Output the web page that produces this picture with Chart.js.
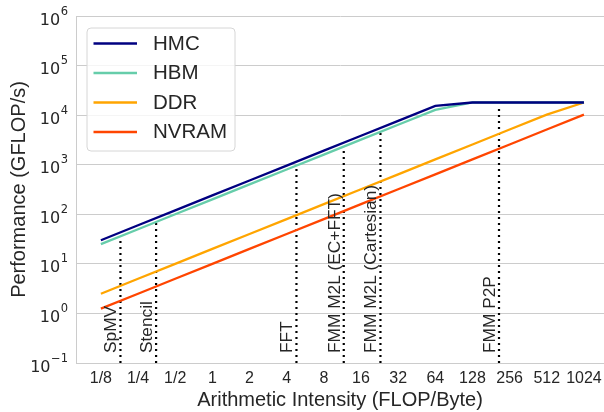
<!DOCTYPE html>
<html>
<head>
<meta charset="utf-8">
<script src="https://cdn.jsdelivr.net/npm/chart.js@4.4.0/dist/chart.umd.min.js"></script>
<style>
  html, body { margin: 0; padding: 0; background: #fff; }
  canvas { display: block; }
</style>
</head>
<body>
<canvas id="roofline" width="604" height="412"></canvas>
<script>
// arithmetic intensity (FLOP/Byte) where the roofs are sampled
var intensity = [0.125, 0.25, 0.5, 1, 2, 4, 8, 16, 32, 64, 128, 256, 512, 1024];
var xTickLabels = ['1/8', '1/4', '1/2', '1', '2', '4', '8', '16', '32', '64', '128', '256', '512', '1024'];

// attainable performance (GFLOP/s) per memory technology
var hmc   = [30, 60, 120, 240, 480, 960, 1920, 3840, 7680, 15360, 18000, 18000, 18000, 18000];
var hbm   = [25, 50, 100, 200, 400, 800, 1600, 3200, 6400, 12800, 18000, 18000, 18000, 18000];
var ddr   = [2.5, 5, 10, 20, 40, 80, 160, 320, 640, 1280, 2560, 5120, 10240, 18000];
var nvram = [1.25, 2.5, 5, 10, 20, 40, 80, 160, 320, 640, 1280, 2560, 5120, 10240];

var seriesNames = ['HMC', 'HBM', 'DDR', 'NVRAM'];
var seriesColors = ['#000080', '#66cdaa', '#ffa500', '#ff4500'];

var yTicks = [0.1, 1, 10, 100, 1000, 10000, 100000, 1000000];
var yTickExp = ['\u22121', '0', '1', '2', '3', '4', '5', '6'];

// kernels marked with dotted lines
var kernels = ['SpMV', 'Stencil', 'FFT', 'FMM M2L (EC+FFT)', 'FMM M2L (Cartesian)', 'FMM P2P'];
var kernelAI = [0.18, 0.35, 4.8, 11.6, 23, 210];
var kernelTop = [36, 72, 950, 2300, 4600, 16000];

var FONT = "'Liberation Sans', Arial, sans-serif";
var TEXT = '#262626';
var GRID = '#cccccc';

function pts(vals) {
  return intensity.map(function (x, i) { return { x: x, y: vals[i] }; });
}

var datasets = [];
[hmc, hbm, ddr, nvram].forEach(function (vals, i) {
  datasets.push({
    label: seriesNames[i],
    data: pts(vals),
    borderColor: seriesColors[i],
    backgroundColor: seriesColors[i],
    borderWidth: 2.3,
    pointRadius: 0,
    fill: false,
    tension: 0
  });
});
kernels.forEach(function (name, i) {
  datasets.push({
    label: name,
    data: [{ x: kernelAI[i], y: 0.1 }, { x: kernelAI[i], y: kernelTop[i] }],
    borderColor: '#000',
    borderWidth: 2.2,
    borderDash: [2, 4],
    borderCapStyle: 'butt',
    pointRadius: 0,
    fill: false
  });
});

// y tick labels as 10^n, kernel names and the framed legend
var extras = {
  id: 'extras',
  afterDraw: function (chart) {
    var ctx = chart.ctx;
    var ys = chart.scales.y, xs = chart.scales.x;
    var ca = chart.chartArea;

    // y ticks
    ctx.save();
    ctx.fillStyle = TEXT;
    ctx.textBaseline = 'alphabetic';
    ctx.textAlign = 'right';
    yTicks.forEach(function (v, i) {
      var py = ys.getPixelForValue(v);
      var right = ca.left - 8;
      ctx.font = "11.5px 'DejaVu Sans', sans-serif";
      var w = ctx.measureText(yTickExp[i]).width;
      ctx.fillText(yTickExp[i], right, py - 1.5);
      ctx.font = "16px 'DejaVu Sans', sans-serif";
      ctx.fillText('10', right - w - 0.5, py + 8.5);
    });
    ctx.restore();

    // kernel labels
    ctx.save();
    ctx.fillStyle = TEXT;
    ctx.font = '17.3px ' + FONT;
    ctx.textAlign = 'left';
    ctx.textBaseline = 'alphabetic';
    kernels.forEach(function (name, i) {
      var px = xs.getPixelForValue(kernelAI[i]);
      ctx.save();
      ctx.translate(px - 4, ca.bottom - 10);
      ctx.rotate(-Math.PI / 2);
      ctx.fillText(name, 0, 0);
      ctx.restore();
    });
    ctx.restore();

    // legend
    var lx = ca.left + 11, ly = ca.top + 12, lw = 148, lh = 123, r = 4;
    ctx.save();
    ctx.beginPath();
    ctx.moveTo(lx + r, ly);
    ctx.arcTo(lx + lw, ly, lx + lw, ly + lh, r);
    ctx.arcTo(lx + lw, ly + lh, lx, ly + lh, r);
    ctx.arcTo(lx, ly + lh, lx, ly, r);
    ctx.arcTo(lx, ly, lx + lw, ly, r);
    ctx.closePath();
    ctx.fillStyle = 'rgba(255,255,255,0.8)';
    ctx.fill();
    ctx.strokeStyle = '#d6d6d6';
    ctx.lineWidth = 1;
    ctx.stroke();
    ctx.font = '20.5px ' + FONT;
    ctx.textAlign = 'left';
    ctx.textBaseline = 'middle';
    seriesNames.forEach(function (name, i) {
      var ry = ly + 15.5 + i * 29.5;
      ctx.strokeStyle = seriesColors[i];
      ctx.lineWidth = 2.3;
      ctx.beginPath();
      ctx.moveTo(lx + 6.5, ry);
      ctx.lineTo(lx + 50, ry);
      ctx.stroke();
      ctx.fillStyle = TEXT;
      ctx.fillText(name, lx + 66, ry + 0.5);
    });
    ctx.restore();
  }
};

var ctx = document.getElementById('roofline').getContext('2d');
var chart = new Chart(ctx, {
  type: 'line',
  data: { datasets: datasets },
  options: {
    responsive: false,
    animation: false,
    devicePixelRatio: 1,
    layout: { padding: { top: 16, left: 0, right: 0, bottom: 0 } },
    plugins: {
      legend: { display: false },
      tooltip: { enabled: false }
    },
    scales: {
      x: {
        type: 'logarithmic',
        min: Math.pow(2, -3.67),
        max: Math.pow(2, 10.54),
        afterBuildTicks: function (s) {
          s.ticks = intensity.map(function (v) { return { value: v }; });
        },
        afterFit: function (s) { s.height = 49; },
        ticks: {
          autoSkip: false,
          maxRotation: 0,
          minRotation: 0,
          padding: -2,
          color: TEXT,
          font: { family: FONT, size: 16 },
          callback: function (v, i) { return xTickLabels[i]; }
        },
        grid: { display: false },
        border: { display: true, color: GRID, width: 1 },
        title: {
          display: true,
          text: 'Arithmetic Intensity (FLOP/Byte)',
          color: TEXT,
          font: { family: FONT, size: 20 },
          padding: { top: 0, bottom: 0 }
        }
      },
      y: {
        type: 'logarithmic',
        min: 0.1,
        max: 1000000,
        afterBuildTicks: function (s) {
          s.ticks = yTicks.map(function (v) { return { value: v }; });
        },
        afterFit: function (s) { s.width = 76; },
        ticks: { display: false },
        grid: { color: GRID, lineWidth: 1, drawTicks: false },
        border: { display: true, color: GRID, width: 1 },
        title: {
          display: true,
          text: 'Performance (GFLOP/s)',
          color: TEXT,
          font: { family: FONT, size: 20 },
          padding: { top: 7, bottom: 0 }
        }
      }
    }
  },
  plugins: [extras]
});
</script>
</body>
</html>
